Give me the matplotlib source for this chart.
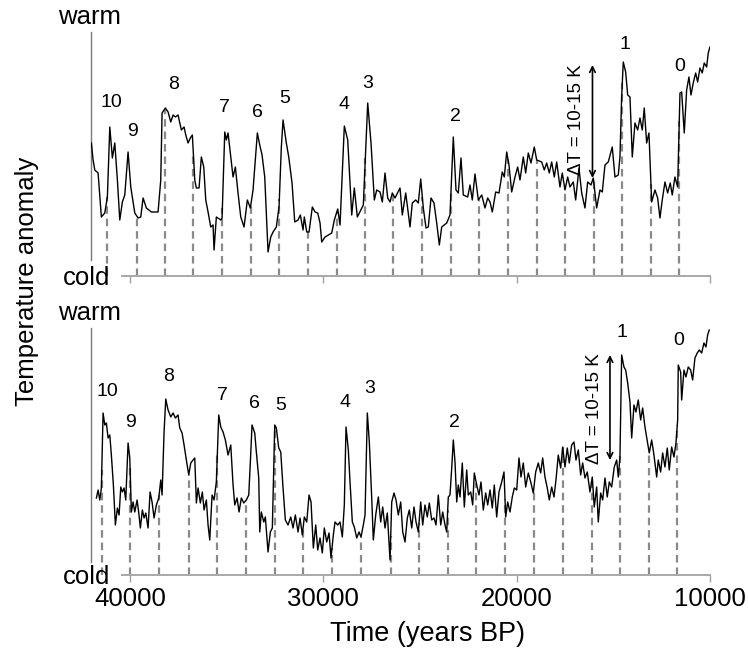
import numpy as np
import matplotlib
matplotlib.use("Agg")
import matplotlib.pyplot as plt

plt.rcParams['font.family'] = ['Liberation Sans', 'DejaVu Sans']

# --- data (years BP, anomaly in arbitrary units) ---
top_years = [42002, 41914, 41826, 41655, 41485, 41309, 41174, 41050, 40916, 40792,
             40657, 40533, 40399, 40274, 40104, 39964, 39757, 39587, 39447, 39328,
             39157, 38899, 38552, 38413, 38345, 38175, 38035, 37895, 37776, 37657,
             37518, 37347, 37207, 37120, 37001, 36882, 36778, 36654, 36571, 36432,
             36313, 36189, 36085, 35966, 35827, 35708, 35656, 35537, 35309, 35242,
             35102, 35020, 34932, 34792, 34673, 34554, 34415, 34275, 34104, 33934,
             33778, 33639, 33416, 33292, 33173, 33034, 32863, 32723, 32604, 32434,
             32294, 32175, 32087, 31917, 31792, 31622, 31482, 31311, 31192, 31053,
             30986, 30861, 30742, 30572, 30432, 30293, 30174, 30086, 29915, 29568,
             29434, 29258, 29139, 28917, 28741, 28534, 28400, 28244, 27934, 27707,
             27536, 27365, 27241, 27070, 26951, 26812, 26672, 26553, 26434, 26295,
             26036, 25917, 25741, 25519, 25400, 25224, 25090, 24965, 24831, 24691,
             24572, 24433, 24278, 24138, 24003, 23879, 23621, 23450, 23279, 23140,
             23021, 22881, 22762, 22535, 22416, 22297, 22157, 21986, 21810, 21640,
             21500, 21381, 21262, 21086, 20916, 20745, 20642, 20517, 20399, 20259,
             20088, 19949, 19830, 19659, 19535, 19400, 19261, 19090, 18966, 18707,
             18573, 18449, 18314, 18190, 18056, 17931, 17761, 17642, 17502, 17363,
             17244, 17073, 16949, 16778, 16638, 16468, 16328, 16157, 16038, 15863,
             15692, 15573, 15433, 15263, 15056, 14916, 14745, 14658, 14570, 14487,
             14363, 14259, 14140, 14021, 13882, 13742, 13623, 13504, 13401, 13277,
             13158, 13018, 12847, 12708, 12589, 12470, 12330, 12191, 12056, 11953,
             11813, 11673, 11554, 11466, 11332, 11208, 11089, 10985, 10867, 10742,
             10639, 10520, 10401, 10298, 10173, 10091, 10003]
top_values = [133, 116, 106, 103, 59, 63, 79, 149, 118, 133,
              96, 56, 74, 81, 124, 89, 63, 58, 59, 78,
              68, 64, 64, 96, 163, 168, 164, 154, 161, 159,
              161, 146, 149, 141, 133, 138, 141, 96, 88, 88,
              119, 109, 76, 64, 49, 51, 26, 59, 56, 58,
              144, 136, 143, 119, 99, 109, 83, 59, 49, 76,
              68, 86, 143, 131, 121, 99, 24, 39, 44, 49,
              69, 129, 156, 133, 119, 93, 54, 56, 61, 46,
              59, 44, 44, 69, 64, 63, 53, 34, 39, 43,
              56, 67, 51, 150, 136, 61, 88, 59, 71, 173,
              133, 76, 86, 84, 74, 103, 78, 74, 83, 78,
              88, 61, 83, 49, 73, 76, 73, 97, 68, 48,
              49, 78, 73, 53, 31, 49, 53, 61, 139, 86,
              83, 118, 81, 79, 91, 76, 102, 76, 81, 68,
              78, 74, 64, 84, 83, 104, 99, 124, 111, 84,
              99, 109, 96, 119, 103, 123, 113, 129, 116, 114,
              106, 113, 103, 114, 99, 114, 89, 103, 86, 99,
              89, 94, 76, 108, 83, 68, 94, 91, 98, 68,
              86, 84, 111, 114, 129, 99, 101, 119, 179, 214,
              204, 181, 179, 119, 153, 146, 158, 146, 168, 133,
              143, 74, 86, 78, 58, 76, 94, 83, 93, 81,
              99, 89, 183, 184, 143, 186, 199, 181, 193, 203,
              194, 208, 203, 213, 209, 223, 229]

bottom_years = [41743, 41655, 41568, 41485, 41397, 41309, 41226, 41138, 41050, 40968,
                40864, 40761, 40657, 40569, 40481, 40399, 40311, 40223, 40104, 40016,
                39933, 39845, 39757, 39638, 39550, 39468, 39364, 39276, 39188, 39069,
                38966, 38863, 38759, 38640, 38516, 38413, 38345, 38242, 38154, 38035,
                37895, 37776, 37657, 37518, 37430, 37311, 37207, 37089, 36964, 36861,
                36742, 36654, 36571, 36483, 36364, 36261, 36173, 36054, 35966, 35878,
                35759, 35656, 35537, 35413, 35309, 35190, 35071, 34932, 34792, 34673,
                34585, 34466, 34363, 34244, 34120, 33985, 33861, 33778, 33691, 33551,
                33468, 33344, 33292, 33210, 33085, 33003, 32863, 32744, 32641, 32516,
                32434, 32310, 32206, 32087, 31968, 31829, 31689, 31570, 31451, 31311,
                31208, 31089, 30986, 30861, 30742, 30639, 30520, 30396, 30293, 30174,
                30055, 29951, 29827, 29708, 29605, 29486, 29398, 29258, 29139, 29020,
                28917, 28829, 28710, 28622, 28503, 28400, 28275, 28156, 28053, 27934,
                27846, 27727, 27624, 27500, 27417, 27293, 27158, 27034, 26931, 26812,
                26693, 26553, 26465, 26346, 26243, 26124, 26000, 25896, 25777, 25658,
                25555, 25431, 25312, 25208, 25090, 24965, 24862, 24743, 24624, 24521,
                24396, 24278, 24174, 24055, 23931, 23828, 23709, 23621, 23538, 23450,
                23362, 23279, 23191, 23103, 23021, 22933, 22814, 22710, 22586, 22503,
                22379, 22276, 22193, 22069, 21950, 21847, 21728, 21604, 21500, 21381,
                21262, 21159, 21035, 20916, 20776, 20657, 20569, 20466, 20347, 20228,
                20124, 20000, 19881, 19778, 19659, 19535, 19400, 19261, 19142, 19018,
                18883, 18759, 18656, 18537, 18418, 18314, 18190, 18071, 17968, 17849,
                17725, 17621, 17502, 17383, 17280, 17156, 17037, 16933, 16814, 16690,
                16587, 16468, 16349, 16209, 16090, 15987, 15863, 15780, 15656, 15552,
                15433, 15314, 15211, 15087, 14952, 14828, 14745, 14658, 14570, 14451,
                14363, 14259, 14140, 14052, 13933, 13830, 13711, 13587, 13484, 13365,
                13225, 13142, 13018, 12899, 12759, 12677, 12553, 12449, 12330, 12211,
                12108, 11984, 11865, 11761, 11673, 11642, 11518, 11466, 11347, 11244,
                11125, 11001, 10898, 10779, 10660, 10556, 10432, 10313, 10210, 10122, 10039]
bottom_values = [77, 85, 75, 87, 162, 150, 152, 137, 140, 120,
                 90, 50, 67, 60, 88, 83, 87, 75, 132, 117,
                 63, 73, 63, 75, 62, 47, 65, 57, 62, 47,
                 83, 73, 57, 70, 77, 95, 80, 143, 176, 165,
                 158, 162, 157, 160, 147, 142, 130, 115, 100, 112,
                 115, 117, 72, 87, 72, 83, 65, 75, 50, 35,
                 80, 75, 93, 160, 148, 143, 135, 120, 130, 90,
                 70, 77, 63, 77, 72, 75, 80, 113, 150, 142,
                 123, 97, 43, 63, 53, 58, 23, 43, 47, 150,
                 147, 127, 123, 87, 55, 50, 58, 47, 60, 43,
                 57, 40, 58, 53, 80, 73, 27, 50, 25, 37,
                 22, 47, 33, 42, 17, 40, 53, 50, 53, 38,
                 70, 148, 125, 93, 53, 48, 37, 43, 38, 50,
                 60, 162, 133, 77, 35, 60, 78, 53, 68, 47,
                 62, 15, 73, 82, 75, 60, 73, 43, 33, 57,
                 65, 47, 68, 53, 43, 73, 50, 70, 58, 72,
                 55, 57, 50, 80, 50, 63, 50, 43, 78, 80,
                 107, 135, 113, 73, 90, 78, 112, 68, 105, 80,
                 83, 70, 102, 90, 80, 93, 65, 82, 70, 85,
                 67, 90, 58, 83, 93, 103, 58, 73, 63, 78,
                 87, 85, 117, 98, 112, 88, 102, 92, 82, 103,
                 112, 102, 117, 98, 87, 75, 88, 78, 95, 120,
                 107, 128, 108, 127, 112, 130, 133, 115, 125, 100,
                 112, 97, 103, 83, 98, 68, 88, 53, 82, 75,
                 97, 78, 93, 88, 108, 115, 98, 118, 220, 208,
                 205, 192, 173, 137, 170, 163, 175, 155, 167, 148,
                 132, 122, 135, 120, 98, 115, 103, 122, 108, 127,
                 105, 128, 118, 132, 155, 210, 203, 175, 205, 198,
                 208, 205, 195, 217, 222, 225, 222, 232, 228, 240, 245]

# ~1470-year spaced markers (dashed lines)
top_cycle_years = [41174, 39653, 38205, 36726, 35226, 33757, 32278, 30793, 29309, 27830,
                   26382, 24882, 23398, 21934, 20450, 18966, 17486, 16018, 14538, 13054, 11590]
bottom_cycle_years = [41464, 40000, 38500, 36964, 35485, 34000, 32500, 31037, 29552, 28053,
                      26517, 25053, 23569, 22090, 20605, 19121, 17621, 16121, 14657, 13157, 11693]

event_labels = ['10', '9', '8', '7', '6', '5', '4', '3', '2', '1', '0']
top_label_years = [40947, 39861, 37761, 35139, 33416, 31984, 28917, 27707, 23191, 14399, 11591]
top_label_values = [173, 144, 191, 168, 163, 177, 171, 192, 159, 231, 209]
bottom_label_years = [41174, 40000, 38020, 35206, 33587, 32206, 28881, 27624, 23243, 14539, 11642]
bottom_label_values = [183, 152, 198, 179, 171, 169, 172, 186, 152, 242, 234]

delta_text = 'ΔT = 10-15 K'
top_arrow = (16080, 98, 211)      # year, low, high
bottom_arrow = (15175, 115, 220)
top_delta_pos = (16897, 156)
bottom_delta_pos = (15951, 166)

x_ticks = [40000, 30000, 20000, 10000]


def draw_panel(ax, years, values, cycles, lab_years, lab_values, arrow, delta_pos,
               ytop, left_bottom, show_ticklabels):
    ax.plot(years, values, color='black', lw=1.0, zorder=3)

    # dashed lines up to the curve
    yr = np.array(years[::-1])
    vl = np.array(values[::-1])
    for c in cycles:
        h = np.interp(c, yr, vl)
        ax.plot([c, c], [0, h], color='#8a8a8a', lw=1.6, dashes=(3.4, 2.2), zorder=2)

    for s, xx, yy in zip(event_labels, lab_years, lab_values):
        ax.text(xx, yy, s, ha='center', va='center', fontsize=14)

    ax.annotate('', xy=(arrow[0], arrow[2]), xytext=(arrow[0], arrow[1]),
                arrowprops=dict(arrowstyle='<->', color='black', lw=1.2,
                                shrinkA=0, shrinkB=0, mutation_scale=10))
    ax.text(delta_pos[0], delta_pos[1], delta_text, rotation=90, ha='center',
            va='center', fontsize=13.5)

    ax.set_xlim(42020, 10000)
    ax.set_ylim(0, ytop)
    ax.set_yticks([])
    ax.set_xticks(x_ticks)
    ax.set_xticklabels([str(t) for t in x_ticks])
    ax.tick_params(axis='x', direction='out', length=5, width=1, color='#a0a0a0',
                   labelsize=18.5, pad=4, labelbottom=show_ticklabels)

    for side in ['top', 'right']:
        ax.spines[side].set_visible(False)
    ax.spines['bottom'].set_color('#a8a8a8')
    ax.spines['bottom'].set_linewidth(1.4)
    ax.spines['bottom'].set_bounds(40414, 10000)
    ax.spines['left'].set_color('#7a7a7a')
    ax.spines['left'].set_linewidth(1.0)
    ax.spines['left'].set_bounds(left_bottom, ytop)

    ax.text(-0.003, 1.0 + 15 / ytop, 'warm', transform=ax.transAxes,
            ha='center', va='center', fontsize=18.5)
    ax.text(-0.007, -0.008, 'cold', transform=ax.transAxes,
            ha='center', va='center', fontsize=18.5)


fig = plt.figure(figsize=(7.48, 6.5), dpi=100)
ax1 = fig.add_axes([0.1217, 0.5754, 0.8275, 0.3754])
ax2 = fig.add_axes([0.1217, 0.1154, 0.8275, 0.3800])

draw_panel(ax1, top_years, top_values, top_cycle_years, top_label_years,
           top_label_values, top_arrow, top_delta_pos, 244, 16, False)
draw_panel(ax2, bottom_years, bottom_values, bottom_cycle_years, bottom_label_years,
           bottom_label_values, bottom_arrow, bottom_delta_pos, 247, 13, True)

fig.text(0.0361, 0.5666, 'Temperature anomaly', rotation=90, ha='center',
         va='center', fontsize=18.5)
fig.text(0.5715, 0.0246, 'Time (years BP)', ha='center', va='center', fontsize=19.5)

fig.savefig('out.png', dpi=100)
